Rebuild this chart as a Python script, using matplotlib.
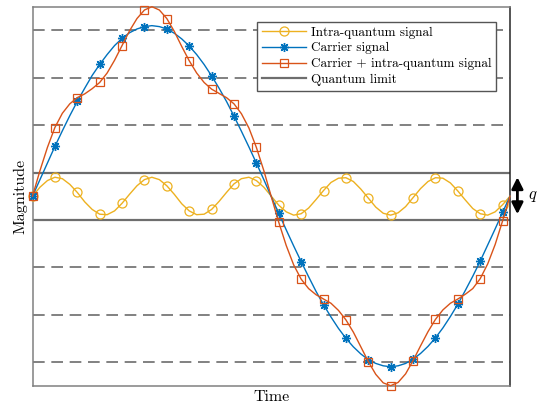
import matplotlib
matplotlib.use('Agg')
import matplotlib.pyplot as plt
import numpy as np
from matplotlib.transforms import blended_transform_factory

# ---- data (y in units of q, x in marker steps) ----
time = list(np.arange(64) / 3.0) + [21.33]
carrier = [0.00, 0.35, 0.70, 1.05, 1.38, 1.70, 2.00, 2.28, 2.55, 2.78, 2.99,
           3.18, 3.33, 3.45, 3.53, 3.58, 3.60, 3.58, 3.53, 3.44, 3.32, 3.17,
           2.99, 2.78, 2.54, 2.28, 2.00, 1.69, 1.37, 1.04, 0.70, 0.35, -0.01,
           -0.36, -0.71, -1.05, -1.38, -1.70, -2.01, -2.29, -2.55, -2.79,
           -3.00, -3.18, -3.33, -3.45, -3.53, -3.58, -3.60, -3.58, -3.53,
           -3.44, -3.32, -3.17, -2.99, -2.78, -2.54, -2.28, -1.99, -1.69,
           -1.37, -1.03, -0.69, -0.34, 0.00]
intra = [0.00, 0.19, 0.33, 0.40, 0.37, 0.25, 0.08, -0.12, -0.28, -0.38, -0.39,
         -0.31, -0.15, 0.04, 0.22, 0.35, 0.40, 0.35, 0.22, 0.04, -0.16, -0.31,
         -0.39, -0.38, -0.28, -0.11, 0.08, 0.26, 0.37, 0.40, 0.33, 0.19, 0.00,
         -0.19, -0.33, -0.40, -0.37, -0.25, -0.07, 0.12, 0.29, 0.38, 0.39,
         0.31, 0.15, -0.04, -0.23, -0.36, -0.40, -0.35, -0.22, -0.03, 0.16,
         0.31, 0.39, 0.38, 0.28, 0.11, -0.08, -0.26, -0.37, -0.40, -0.33,
         -0.18, 0.00]
combined = [c + i for c, i in zip(carrier, intra)]
quantum_limits = [0.5, -0.5]
dashed_levels = [3.5, 2.5, 1.5, -1.5, -2.5, -3.5]
labels = ['Intra-quantum signal', 'Carrier signal',
          'Carrier + intra-quantum signal', 'Quantum limit']

plt.rcParams['font.family'] = ['cmr10', 'DejaVu Serif']
plt.rcParams['mathtext.fontset'] = 'cm'
plt.rcParams['axes.formatter.use_mathtext'] = True
plt.rcParams['lines.scale_dashes'] = False

fig = plt.figure(figsize=(5.37, 4.07), dpi=100)
ax = fig.add_axes([32.5 / 537, 1 - 385.7 / 407, 477.5 / 537, 379 / 407])

for lv in dashed_levels:
    ax.axhline(lv, color='#777777', lw=1.3, dashes=(8.4, 4.8), zorder=1)

c_intra = '#EDB120'
c_car = '#0072BD'
c_sum = '#D95319'

l1, = ax.plot(time, intra, color=c_intra, lw=1.0, marker='o', markersize=6.5,
              markerfacecolor='none', markeredgewidth=0.9, markevery=3,
              clip_on=False, zorder=3, label=labels[0])
l2, = ax.plot(time, carrier, color=c_car, lw=1.0, marker=(8, 2, 0),
              markersize=6.5, markeredgewidth=1.0, markevery=3,
              clip_on=False, zorder=4, label=labels[1])
l3, = ax.plot(time, combined, color=c_sum, lw=1.0, marker='s', markersize=6,
              markerfacecolor='none', markeredgewidth=0.9, markevery=3,
              clip_on=False, zorder=5, label=labels[2])
l4 = ax.axhline(quantum_limits[0], color='#6e6e6e', lw=1.6, zorder=2,
                label=labels[3])
ax.axhline(quantum_limits[1], color='#6e6e6e', lw=1.6, zorder=2)

ax.set_xlim(time[0], time[-1])
ax.set_ylim(-4, 4)
ax.set_xticks([])
ax.set_yticks([])
for s in ['left', 'top', 'bottom']:
    ax.spines[s].set_color('#808080')
    ax.spines[s].set_linewidth(1.1)
ax.spines['right'].set_color('#262626')
ax.spines['right'].set_linewidth(1.1)

ax.set_xlabel('Time', fontsize=11.5, labelpad=3)
ax.set_ylabel('Magnitude', fontsize=11.5, labelpad=4)

leg = ax.legend(handles=[l1, l2, l3, l4], loc='upper right',
                bbox_to_anchor=(0.9707, 0.9604), borderaxespad=0,
                fontsize=9.5, handlelength=3.3, handletextpad=0.4,
                labelspacing=0.27, borderpad=0.35, fancybox=False,
                framealpha=1, edgecolor='#555555')
leg.get_frame().set_linewidth(1.0)

# q annotation outside the right edge
tr = blended_transform_factory(ax.transAxes, ax.transData)
ax.annotate('', xy=(1.0155, 0.40), xytext=(1.0155, -0.38), xycoords=tr,
            textcoords=tr,
            arrowprops=dict(arrowstyle='<|-|>', color='black', lw=2.0,
                            mutation_scale=17, shrinkA=0, shrinkB=0),
            annotation_clip=False)
ax.text(1.048, 0.0, '$q$', transform=tr, fontsize=12, ha='center',
        va='center', clip_on=False)

fig.savefig('out.png', dpi=100)
